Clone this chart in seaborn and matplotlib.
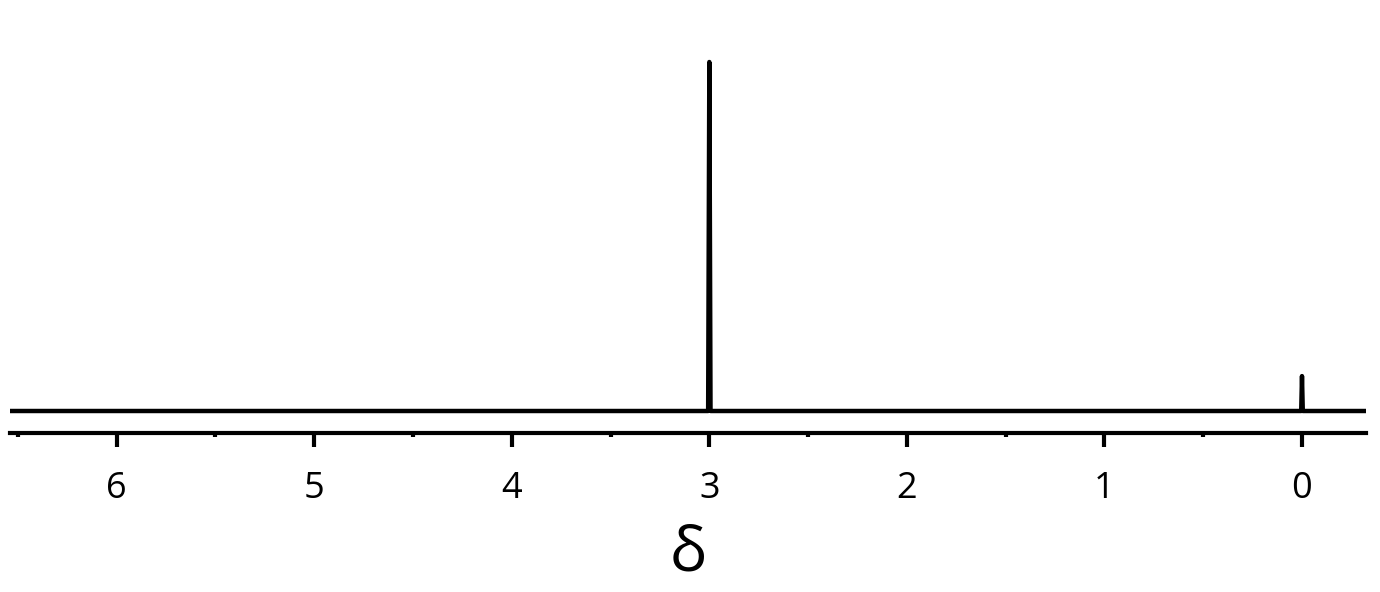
import numpy as np
import pandas as pd
import seaborn as sns
import matplotlib
matplotlib.use("Agg")
import matplotlib.pyplot as plt
from matplotlib.ticker import MultipleLocator

# Spectrum trace (chemical shift, relative intensity)
shift = [6.54, 3.006, 3.003, 3.000, 2.997, 2.994, 0.004, 0.002, 0.000, -0.002, -0.004, -0.324]
intensity = [0.0, 0.0, 0.5, 1.0, 0.5, 0.0, 0.0, 0.05, 0.10, 0.05, 0.0, 0.0]
tick_values = [6, 5, 4, 3, 2, 1, 0]
tick_labels = ["6", "5", "4", "3", "2", "1", "0"]
x_label = "δ"

sns.set_theme(style="white")
plt.rcParams["font.family"] = ["Open Sans", "DejaVu Sans"]

df = pd.DataFrame({"shift": shift, "intensity": intensity})

W, H = 1380, 592
fig = plt.figure(figsize=(W / 100, H / 100), dpi=100)
left_px, right_px = 10, 1366
bottom_px = 433
ymin, ymax = -22 / 349, 1.06
height_px = (ymax - ymin) * 349
ax = fig.add_axes([left_px / W, (H - bottom_px) / H,
                   (right_px - left_px) / W, height_px / H])

sns.lineplot(data=df, x="shift", y="intensity", ax=ax, color="black",
             linewidth=3.2, sort=False, estimator=None)

ax.set_xlim(6.54, -0.324)
ax.set_ylim(ymin, ymax)
for s in ["top", "left", "right"]:
    ax.spines[s].set_visible(False)
ax.spines["bottom"].set_color("black")
ax.spines["bottom"].set_linewidth(3)
ax.set_yticks([])
ax.set_ylabel("")
ax.set_xticks(tick_values)
ax.set_xticklabels(tick_labels)
ax.xaxis.set_minor_locator(MultipleLocator(0.5))
ax.tick_params(axis="x", which="major", direction="out", length=10, width=3,
               color="black", labelsize=26, labelcolor="black", pad=17, bottom=True)
ax.tick_params(axis="x", which="minor", direction="out", length=3, width=3,
               color="black", bottom=True)
ax.set_xlabel(x_label, fontsize=45, color="black", labelpad=12)
ax.set_facecolor("white")
fig.patch.set_facecolor("white")

fig.savefig("out.png", dpi=100, facecolor="white")
